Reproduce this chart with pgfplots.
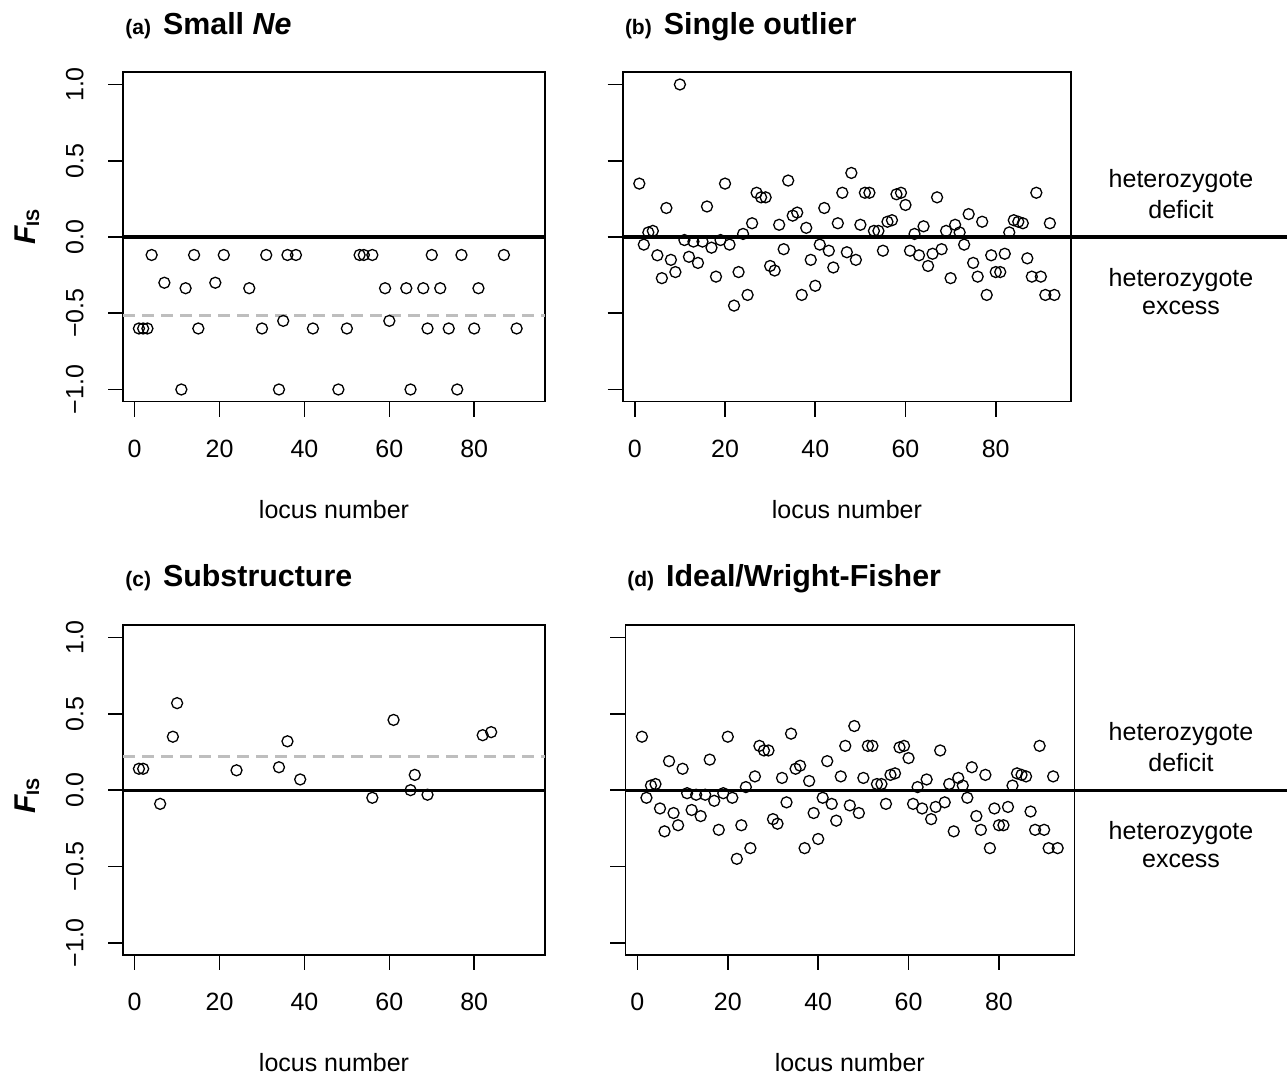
\documentclass[border=0pt]{standalone}
\usepackage{fontspec}
\setmainfont{Liberation Sans}
\usepackage{pgfplots}
\usepackage{pgfplotstable}
\pgfplotsset{compat=1.18}
\definecolor{MeanGray}{HTML}{BEBEBE}

% locus number vs F_IS
\pgfplotstableread{
x y
1 -0.6
2 -0.6
3 -0.6
4 -0.118
7 -0.3
11 -1
12 -0.336
14 -0.118
15 -0.6
19 -0.3
21 -0.118
27 -0.336
30 -0.6
31 -0.118
34 -1
35 -0.55
36 -0.118
38 -0.118
42 -0.6
48 -1
50 -0.6
53 -0.118
54 -0.118
56 -0.118
59 -0.336
60 -0.55
64 -0.336
65 -1
68 -0.336
69 -0.6
70 -0.118
72 -0.336
74 -0.6
76 -1
77 -0.118
80 -0.6
81 -0.336
87 -0.118
90 -0.6
}\smallne

\pgfplotstableread{
x y
1 0.14
2 0.14
6 -0.09
9 0.35
10 0.57
24 0.13
34 0.15
36 0.32
39 0.07
56 -0.05
61 0.46
65 0.00
66 0.10
69 -0.03
82 0.36
84 0.38
}\substr

% ideal population; panel (b) is the same with locus 10 at 1.0
\pgfplotstableread{
x b d
1 0.35 0.35
2 -0.05 -0.05
3 0.03 0.03
4 0.04 0.04
5 -0.12 -0.12
6 -0.27 -0.27
7 0.19 0.19
8 -0.15 -0.15
9 -0.23 -0.23
10 1.00 0.14
11 -0.02 -0.02
12 -0.13 -0.13
13 -0.03 -0.03
14 -0.17 -0.17
15 -0.03 -0.03
16 0.20 0.20
17 -0.07 -0.07
18 -0.26 -0.26
19 -0.02 -0.02
20 0.35 0.35
21 -0.05 -0.05
22 -0.45 -0.45
23 -0.23 -0.23
24 0.02 0.02
25 -0.38 -0.38
26 0.09 0.09
27 0.29 0.29
28 0.26 0.26
29 0.26 0.26
30 -0.19 -0.19
31 -0.22 -0.22
32 0.08 0.08
33 -0.08 -0.08
34 0.37 0.37
35 0.14 0.14
36 0.16 0.16
37 -0.38 -0.38
38 0.06 0.06
39 -0.15 -0.15
40 -0.32 -0.32
41 -0.05 -0.05
42 0.19 0.19
43 -0.09 -0.09
44 -0.20 -0.20
45 0.09 0.09
46 0.29 0.29
47 -0.10 -0.10
48 0.42 0.42
49 -0.15 -0.15
50 0.08 0.08
51 0.29 0.29
52 0.29 0.29
53 0.04 0.04
54 0.04 0.04
55 -0.09 -0.09
56 0.10 0.10
57 0.11 0.11
58 0.28 0.28
59 0.29 0.29
60 0.21 0.21
61 -0.09 -0.09
62 0.02 0.02
63 -0.12 -0.12
64 0.07 0.07
65 -0.19 -0.19
66 -0.11 -0.11
67 0.26 0.26
68 -0.08 -0.08
69 0.04 0.04
70 -0.27 -0.27
71 0.08 0.08
72 0.03 0.03
73 -0.05 -0.05
74 0.15 0.15
75 -0.17 -0.17
76 -0.26 -0.26
77 0.10 0.10
78 -0.38 -0.38
79 -0.12 -0.12
80 -0.23 -0.23
81 -0.23 -0.23
82 -0.11 -0.11
83 0.03 0.03
84 0.11 0.11
85 0.10 0.10
86 0.09 0.09
87 -0.14 -0.14
88 -0.26 -0.26
89 0.29 0.29
90 -0.26 -0.26
91 -0.38 -0.38
92 0.09 0.09
93 -0.38 -0.38
}\ideal

\pgfplotsset{
  fispanel/.style={
    scale only axis, anchor=south west, clip=false,
    xmin=-2.68, xmax=96.68, ymin=-1.08, ymax=1.08,
    xtick={0,20,40,60,80}, xticklabels={0,20,40,60,80},
    ytick={-1,-0.5,0,0.5,1},
    xtick pos=left, ytick pos=left,
    tick align=outside, major tick length=7.5pt,
    axis line style={line width=0.8pt},
    every tick/.style={line width=0.8pt, black},
    tick label style={font=\fontsize{12.5}{14}\selectfont},
    yticklabel style={rotate=90, anchor=base},
    yticklabel shift=12.5pt,
    xticklabel shift=8pt,
  },
  pts/.style={only marks, mark=o, mark size=2.75pt, black, mark options={line width=0.65pt}},
}
\newcommand{\lbl}{\fontsize{12.5}{14}\selectfont}
\newcommand{\fis}{{\fontsize{15}{18}\selectfont\bfseries\itshape F}{\fontsize{9}{11}\selectfont\bfseries\raisebox{-2pt}{IS}}}

\begin{document}
\begin{tikzpicture}
\useasboundingbox (0,0) rectangle (643.5pt,537.5pt);

% (a)
\begin{axis}[fispanel, at={(61.65pt,336.65pt)}, width=210.85pt, height=164.7pt,
  yticklabels={−1.0,−0.5,0.0,0.5,1.0}]
  \addplot[pts] table[x=x, y=y] {\smallne};
  \draw[MeanGray, line width=1.5pt, dash pattern=on 6pt off 3.5pt] (axis cs:-2.68,-0.517) -- (axis cs:96.68,-0.517);
  \draw[line width=1.6pt] (axis cs:-2.68,0) -- (axis cs:96.68,0);
\end{axis}

% (b)
\begin{axis}[fispanel, at={(311.35pt,336.65pt)}, width=224.15pt, height=164.7pt,
  yticklabels={}]
  \addplot[pts] table[x=x, y=b] {\ideal};
  \draw[line width=1.6pt] (axis cs:-2.68,0) -- (axis cs:150,0);
\end{axis}

% (c)
\begin{axis}[fispanel, at={(61.65pt,60pt)}, width=210.85pt, height=164.85pt,
  yticklabels={−1.0,−0.5,0.0,0.5,1.0}]
  \addplot[pts] table[x=x, y=y] {\substr};
  \draw[MeanGray, line width=1.5pt, dash pattern=on 6pt off 3.5pt] (axis cs:-2.68,0.223) -- (axis cs:96.68,0.223);
  \draw[line width=1.6pt] (axis cs:-2.68,0) -- (axis cs:96.68,0);
\end{axis}

% (d)
\begin{axis}[fispanel, at={(312.65pt,60pt)}, width=224.5pt, height=164.85pt,
  yticklabels={}]
  \addplot[pts] table[x=x, y=d] {\ideal};
  \draw[line width=1.6pt] (axis cs:-2.68,0) -- (axis cs:150,0);
\end{axis}

% titles
\node[anchor=base west, inner sep=0] at (62.5pt,520.25pt) {{\fontsize{10.5}{12}\selectfont\bfseries (a)}\hspace{6pt}{\fontsize{15.2}{18}\selectfont\bfseries Small \textit{Ne}}};
\node[anchor=base west, inner sep=0] at (312.3pt,520.25pt) {{\fontsize{10.5}{12}\selectfont\bfseries (b)}\hspace{6pt}{\fontsize{15.2}{18}\selectfont\bfseries Single outlier}};
\node[anchor=base west, inner sep=0] at (62.5pt,244.25pt) {{\fontsize{10.5}{12}\selectfont\bfseries (c)}\hspace{6pt}{\fontsize{15.2}{18}\selectfont\bfseries Substructure}};
\node[anchor=base west, inner sep=0] at (313.5pt,244.25pt) {{\fontsize{10.5}{12}\selectfont\bfseries (d)}\hspace{6pt}{\fontsize{15.2}{18}\selectfont\bfseries Ideal/Wright-Fisher}};

% axis titles
\node[rotate=90, inner sep=0] at (13.5pt,424pt) {\fis};
\node[rotate=90, inner sep=0] at (13.5pt,139.5pt) {\fis};
\node[anchor=base, inner sep=0] at (167pt,278pt) {\lbl locus number};
\node[anchor=base, inner sep=0] at (423.45pt,278pt) {\lbl locus number};
\node[anchor=base, inner sep=0] at (167pt,1.5pt) {\lbl locus number};
\node[anchor=base, inner sep=0] at (424.9pt,1.5pt) {\lbl locus number};

% side notes
\node[anchor=base, inner sep=0] at (590.5pt,443.85pt) {\lbl heterozygote};
\node[anchor=base, inner sep=0] at (590.5pt,428.35pt) {\lbl deficit};
\node[anchor=base, inner sep=0] at (590.5pt,394.15pt) {\lbl heterozygote};
\node[anchor=base, inner sep=0] at (590.5pt,380pt) {\lbl excess};
\node[anchor=base, inner sep=0] at (590.5pt,167.35pt) {\lbl heterozygote};
\node[anchor=base, inner sep=0] at (590.5pt,151.85pt) {\lbl deficit};
\node[anchor=base, inner sep=0] at (590.5pt,117.65pt) {\lbl heterozygote};
\node[anchor=base, inner sep=0] at (590.5pt,103.5pt) {\lbl excess};
\end{tikzpicture}
\end{document}
